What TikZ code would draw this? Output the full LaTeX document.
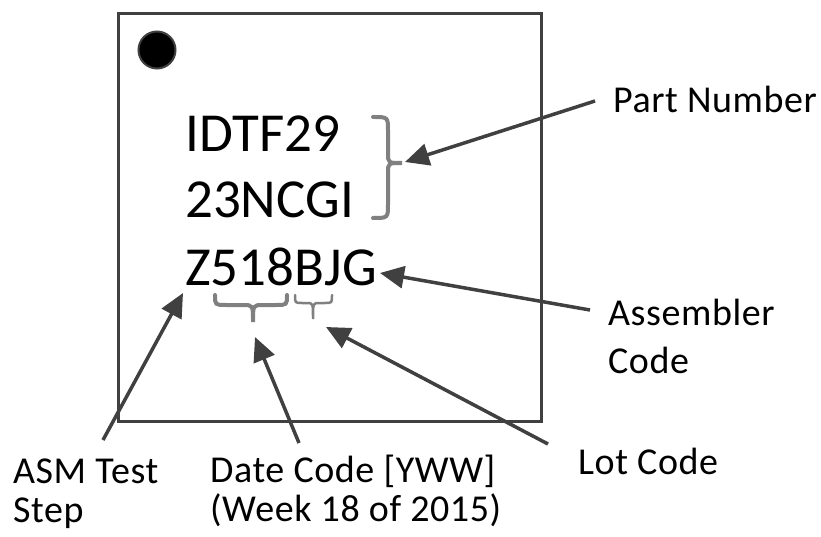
\documentclass[tikz,border=0pt]{standalone}
\usepackage{fontspec}
\setmainfont{Carlito}
\newfontfamily\lblfont[LetterSpace=1.5]{Carlito}
\usetikzlibrary{arrows.meta}
\definecolor{dk}{HTML}{404040}
\definecolor{br}{HTML}{808080}
\begin{document}
\begin{tikzpicture}[x=1pt,y=-1pt,
  chiptext/.style={anchor=base west,inner sep=0pt,font=\fontsize{55}{66}\selectfont},
  lbl/.style={anchor=base west,inner sep=0pt,font=\lblfont\fontsize{38}{44}\selectfont},
  callout/.style={draw=dk,line width=3.5pt,-{Triangle[length=24pt,width=22pt]}},
  bracestyle/.style={draw=br,line width=4pt,line cap=round}]
\useasboundingbox (0,0) rectangle (821,537);
% chip body
\draw[dk,line width=3pt] (118,14) rectangle (541,421);
\fill[black,draw=dk,line width=2pt] (157,50) circle (18.5pt);
% chip text
\node[chiptext] (l1) at (185,152) {IDTF29};
\node[chiptext] (l2) at (185,218) {23NCGI};
\node[chiptext] (l3) at (185,285) {Z518BJG};
% braces
\draw[bracestyle] (373,117) .. controls (388,117) .. (388,131) -- (388,153)
  .. controls (388,163) .. (402,163) .. controls (388,163) .. (388,173) -- (388,204)
  .. controls (388,218) .. (373,218);
\draw[bracestyle] (215,295) .. controls (215,305) .. (226,305) -- (243,305)
  .. controls (253,305) .. (253,322) .. controls (253,305) .. (263,305) -- (276,305)
  .. controls (287,305) .. (287,295);
\draw[bracestyle,line width=2.5pt] (295,295) .. controls (295,303) .. (302,303) -- (307,303)
  .. controls (313,303) .. (313,319) .. controls (313,303) .. (319,303) -- (325,303)
  .. controls (332,303) .. (332,295);
% labels
\node[lbl] (pn) at (613,113) {Part Number};
\node[lbl] (ac1) at (608,325) {Assembler};
\node[lbl] (ac2) at (608,373) {Code};
\node[lbl] (lc) at (578,474) {Lot Code};
\node[lbl] (dc1) at (210,482) {Date Code [YWW]};
\node[lbl] (dc2) at (210,521) {(Week 18 of 2015)};
\node[lbl] (as1) at (13,483) {ASM Test};
\node[lbl] (as2) at (13,522) {Step};
% arrow end points
\coordinate (pnS) at (595,101); \coordinate (pnT) at (405,162);
\coordinate (acS) at (590,310); \coordinate (acT) at (380,273);
\coordinate (lcS) at (548,444); \coordinate (lcT) at (326,327);
\coordinate (dcS) at (299,443); \coordinate (dcT) at (255,337);
\coordinate (asS) at (103,440); \coordinate (asT) at (183,293);
\draw[callout] (pnS) -- (pnT);
\draw[callout] (acS) -- (acT);
\draw[callout] (lcS) -- (lcT);
\draw[callout] (dcS) -- (dcT);
\draw[callout] (asS) -- (asT);
\end{tikzpicture}
\end{document}
